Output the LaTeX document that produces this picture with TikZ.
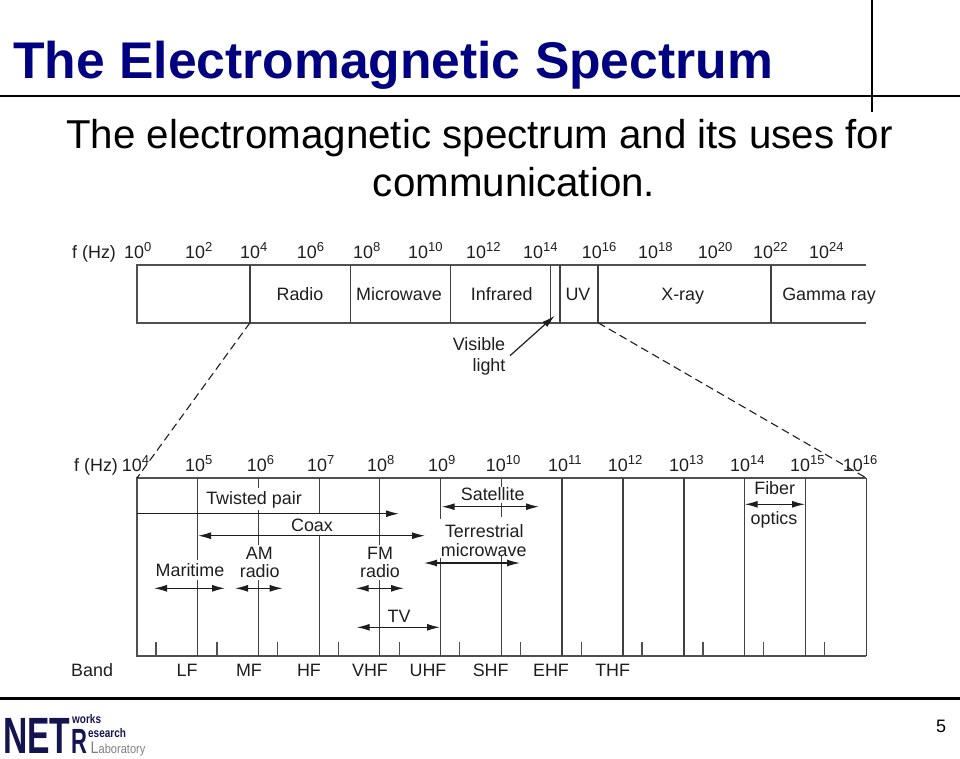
\documentclass[tikz,border=0pt]{standalone}
\usepackage{fontspec}
\setmainfont{Liberation Sans}
\usetikzlibrary{arrows.meta}
\definecolor{navy}{RGB}{0,0,128}
\definecolor{logonavy}{RGB}{20,20,80}
\definecolor{ink}{RGB}{30,30,30}
\definecolor{edge}{RGB}{80,80,80}
\newcommand{\pw}[1]{10\raisebox{6.5pt}{\fontsize{13}{14}\selectfont #1}}
\tikzset{
  lab/.style={inner sep=0pt,anchor=base,font=\fontsize{17.9}{20}\selectfont,text=ink},
  labw/.style={lab,anchor=base west},
  frameline/.style={draw=edge,line width=1.6pt},
  divider/.style={draw=ink!85!white,line width=1.25pt},
  tickline/.style={draw=edge,line width=1.25pt},
  rule/.style={draw=black,line width=2.2pt},
  dashline/.style={draw=ink,line width=1.1pt,dash pattern=on 8pt off 4.5pt},
  both/.style={draw=ink,line width=1.2pt,{Latex[length=13pt,width=7pt]}-{Latex[length=13pt,width=7pt]}},
  single/.style={draw=ink,line width=1.2pt,-{Latex[length=13pt,width=7pt]}}
}
\begin{document}
\begin{tikzpicture}[x=1pt,y=-1pt]
\useasboundingbox (0,0) rectangle (960,758);
% header
\coordinate (hl) at (0,96); \coordinate (hr) at (960,96);
\coordinate (vt) at (872,0); \coordinate (vb) at (872,112);
\draw[rule] (hl) -- (hr);
\draw[rule] (vt) -- (vb);
\node[inner sep=0pt,anchor=base west,font=\fontsize{51.6}{55}\bfseries\selectfont,text=navy] (title) at (13,78) {The Electromagnetic Spectrum};
\node[inner sep=0pt,anchor=base,font=\fontsize{40.3}{42}\selectfont,text=black] (sub1) at (479.5,148) {The electromagnetic spectrum and its uses for};
\node[inner sep=0pt,anchor=base,font=\fontsize{40.3}{42}\selectfont,text=black] (sub2) at (514,196) {communication.};
% top band
\coordinate (tl) at (137,265); \coordinate (tr) at (866,265);
\coordinate (bl) at (137,322.7); \coordinate (br) at (866,322.7);
\draw[frameline] (tr) -- (tl) -- (bl) -- (br);
\foreach \n/\x in {a/250,b/350.5,c/450.7,d/550.7,e/560,f/598,g/771}{
  \coordinate (t\n) at (\x,265); \coordinate (u\n) at (\x,322.7);
  \draw[divider] (t\n) -- (u\n);
}
\foreach \n/\x/\p in {p0/124/0,p2/185/2,p4/240/4,p6/296.7/6,p8/353/8,p10/408/10,p12/466/12,p14/523/14,p16/581.7/16,p18/638/18,p20/697.7/20,p22/753/22,p24/809/24}{
  \node[labw] (\n) at (\x,258.3) {\pw{\p}};
}
\node[labw] (fhz1) at (72,258.3) {f (Hz)};
\node[lab] (radio) at (300,300) {Radio};
\node[lab] (micro) at (399,300) {Microwave};
\node[lab] (infra) at (501.7,300) {Infrared};
\node[lab] (uv) at (578,300) {UV};
\node[lab] (xray) at (682.7,300) {X-ray};
\node[lab] (gamma) at (829,300) {Gamma ray};
\node[lab] (vis) at (479,350.7) {Visible};
\node[lab] (lgt) at (489,371.7) {light};
\coordinate (visA) at (510,355.7); \coordinate (visB) at (554.7,315.7);
\draw[single] (visA) -- (visB);
% lower band
\coordinate (Ltl) at (137,478); \coordinate (Ltr) at (866.3,478);
\coordinate (Lbl) at (137,655.7); \coordinate (Lbr) at (866.3,655.7);
\draw[frameline] (Lbr) -- (Lbl) -- (Ltl) -- (Ltr);
\draw[divider] (Ltr) -- (Lbr);
% dashed zoom lines
\draw[dashline] (ua) -- (Ltl);
\draw[dashline] (uf) -- (Ltr);
% lower dividers, interrupted behind labels
\foreach \n/\x/\segs in {
  A/197.3/{478/560,580/655.7},
  B/258.3/{478/488,510/545,580/655.7},
  C/319.3/{478/513.7,535.7/655.7},
  D/379.3/{478/545,580/655.7},
  E/440.7/{478/519,558/655.7},
  F/501.7/{478/487,503/517,555/655.7},
  G/562/{478/655.7},
  H/623/{478/655.7},
  I/684/{478/655.7},
  J/744.3/{478/655.7},
  K/805.3/{478/655.7}}{
  \foreach \ya/\yb in \segs {
    \coordinate (s\n a) at (\x,\ya); \coordinate (s\n b) at (\x,\yb);
    \draw[divider] (s\n a) -- (s\n b);
  }
}
\foreach \n/\x in {a/156,b/217,c/277.3,d/338.3,e/399.3,f/459.3,g/520.7,h/581.7,i/642,j/703,k/763.7,l/824.3}{
  \coordinate (ka\n) at (\x,642); \coordinate (kb\n) at (\x,655.7);
  \draw[tickline] (ka\n) -- (kb\n);
}
\node[labw] (fhz2) at (74,471) {f (Hz)};
\foreach \n/\x/\p in {q4/121.7/4,q5/185/5,q6/246.7/6,q7/307/7,q8/367/8,q9/428/9,q10/485.7/10,q11/548/11,q12/607.7/12,q13/669/13,q14/730/14,q15/790/15,q16/842.7/16}{
  \node[labw] (\n) at (\x,471) {\pw{\p}};
}
\node[lab] (twist) at (254,504) {Twisted pair};
\node[lab] (coax) at (312,531.7) {Coax};
\node[lab] (mari) at (190,576) {Maritime};
\node[lab] (am) at (259.3,559) {AM};
\node[lab] (amr) at (259.7,577) {radio};
\node[lab] (fm) at (380,559) {FM};
\node[lab] (fmr) at (380,577) {radio};
\node[lab] (tv) at (399,622.3) {TV};
\node[lab] (sat) at (492.7,500.7) {Satellite};
\node[lab] (ter) at (484.3,537.3) {Terrestrial};
\node[lab] (mw) at (483.7,556) {microwave};
\node[lab] (fib) at (774.7,494) {Fiber};
\node[lab] (opt) at (774,524.3) {optics};
% range arrows
\coordinate (twA) at (137,513.7); \coordinate (twB) at (399,513.7);
\draw[single] (twA) -- (twB);
\foreach \n/\xa/\xb/\y in {coax/198/425/535.7,mar/154/225/588.3,amm/235/282.7/588.3,fmm/355.7/404/588.3,tvv/356.7/440/627.3,sate/441.7/539/506.7,terr/424/520/563,fibr/744.7/805/504.3}{
  \coordinate (\n A) at (\xa,\y); \coordinate (\n B) at (\xb,\y);
  \draw[both] (\n A) -- (\n B);
}
% band row
\node[labw] (band) at (71,676.7) {Band};
\foreach \n/\x/\t in {lf/187/LF,mf/249/MF,hf/309/HF,vhf/370/VHF,uhf/428/UHF,shf/490.7/SHF,ehf/551/EHF,thf/612.7/THF}{
  \node[lab] (\n) at (\x,676.7) {\t};
}
% footer
\coordinate (fl) at (0,698.5); \coordinate (fr) at (960,698.5);
\draw[rule] (fl) -- (fr);
\node[inner sep=0pt,anchor=base,font=\fontsize{18}{20}\selectfont,text=black] (pg) at (941,732) {5};
% logo
\node[inner sep=0pt,anchor=base west,xscale=.66,font=\fontsize{51}{52}\bfseries\selectfont,text=logonavy] (net) at (3,753) {NET};
\node[inner sep=0pt,anchor=base west,xscale=.63,font=\fontsize{35}{36}\bfseries\selectfont,text=logonavy] (rr) at (71,753) {R};
\node[inner sep=0pt,anchor=base west,xscale=.8,font=\fontsize{12.5}{13}\bfseries\selectfont,text=logonavy] (wk) at (72,723.5) {works};
\node[inner sep=0pt,anchor=base west,xscale=.8,font=\fontsize{12.5}{13}\bfseries\selectfont,text=logonavy] (es) at (88,737) {esearch};
\node[inner sep=0pt,anchor=base west,xscale=.85,font=\fontsize{13}{14}\selectfont,text=black!50] (lab) at (90.5,753.5) {{\fontsize{17}{18}\selectfont L}aboratory};
\end{tikzpicture}
\end{document}
